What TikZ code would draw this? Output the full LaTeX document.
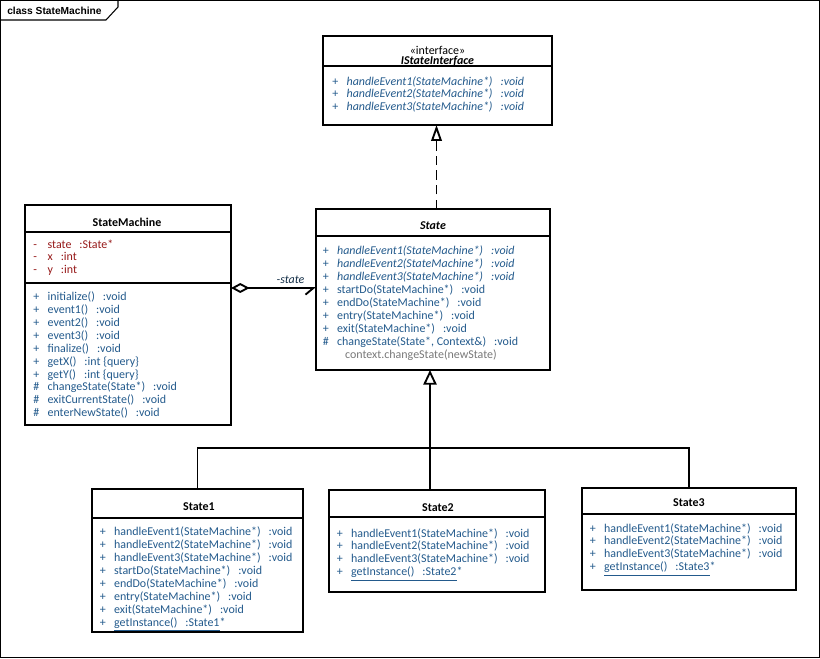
\documentclass[tikz,border=0pt]{standalone}
\usepackage{fontspec}
\setmainfont{Carlito}
\newfontfamily\framefont{Liberation Sans}
\usepackage{xcolor}
\usepackage{tikz}
\usetikzlibrary{arrows.meta,positioning,calc}

\definecolor{opblue}{RGB}{35,90,140}
\definecolor{attred}{RGB}{150,25,25}
\definecolor{codegray}{RGB}{120,120,120}
\newcommand{\px}{0.02646cm}
\newcommand{\rtype}[1]{\hspace{6pt}:#1}
\newcommand{\members}[1]{\begin{tabular}[t]{@{}p{10.8pt}@{}l@{}}#1\end{tabular}}

\begin{document}
\begin{tikzpicture}[x=\px, y=-\px, >=Latex,
  classbox/.style={draw, line width=1.4pt, anchor=north west, inner sep=0pt, outer sep=0pt},
  classname/.style={font=\fontsize{9}{10}\selectfont\bfseries, inner sep=0pt},
  ops/.style={anchor=base west, inner sep=0pt, text=opblue, font=\fontsize{9}{9.75}\selectfont},
  divider/.style={line width=1.4pt},
  link/.style={line width=1.4pt}]
\useasboundingbox (0,0) rectangle (820,658);
\draw[line width=0.8pt] (0.5,0.5) rectangle (819.5,657.5);
\node[anchor=west, inner sep=0pt, font=\framefont\fontsize{7.7}{9}\selectfont\bfseries] (title) at (7,11) {class StateMachine};
\draw[line width=0.8pt] (0.5,20) -- (106,20) -- (118,7) -- (118,0.5);

\node[classbox, minimum width=229*\px, minimum height=89*\px] (iface) at (323,36) {};
\node[inner sep=0pt, font=\fontsize{9}{10}\selectfont] (iface-stereo) at (437.5,50) {«interface»};
\node[classname] (iface-name) at (437.5,61.5) {\itshape IStateInterface};
\draw[divider] ([yshift=-30*\px]iface.north west) -- ([yshift=-30*\px]iface.north east);
\node[ops] (iface-ops) at (332,85) {\members{
+ & \textit{handleEvent1(StateMachine*)\rtype{void}}\\
+ & \textit{handleEvent2(StateMachine*)\rtype{void}}\\
+ & \textit{handleEvent3(StateMachine*)\rtype{void}}}};

\node[classbox, minimum width=234*\px, minimum height=161*\px] (state) at (316,209) {};
\node[classname] (state-name) at (433,225.5) {\itshape State};
\draw[divider] ([yshift=-27*\px]state.north west) -- ([yshift=-27*\px]state.north east);
\node[ops] (state-ops) at (322.5,254.5) {\members{
+ & \textit{handleEvent1(StateMachine*)\rtype{void}}\\
+ & \textit{handleEvent2(StateMachine*)\rtype{void}}\\
+ & \textit{handleEvent3(StateMachine*)\rtype{void}}\\
+ & startDo(StateMachine*)\rtype{void}\\
+ & endDo(StateMachine*)\rtype{void}\\
+ & entry(StateMachine*)\rtype{void}\\
+ & exit(StateMachine*)\rtype{void}\\
\# & changeState(State*, Context\&)\rtype{void}\\
 & \hspace{6pt}\textcolor{codegray}{context.changeState(newState)}}};

\node[classbox, minimum width=206*\px, minimum height=220*\px] (sm) at (25,205) {};
\node[classname] (sm-name) at (127,222.5) {StateMachine};
\draw[divider] ([yshift=-27*\px]sm.north west) -- ([yshift=-27*\px]sm.north east);
\draw[divider] ([yshift=-78*\px]sm.north west) -- ([yshift=-78*\px]sm.north east);
\node[ops, text=attred] (sm-attrs) at (33,248) {\members{
- & state\rtype{State*}\\
- & x\rtype{int}\\
- & y\rtype{int}}};
\node[ops] (sm-ops) at (33,300.3) {\members{
+ & initialize()\rtype{void}\\
+ & event1()\rtype{void}\\
+ & event2()\rtype{void}\\
+ & event3()\rtype{void}\\
+ & finalize()\rtype{void}\\
+ & getX()\rtype{int \{query\}}\\
+ & getY()\rtype{int \{query\}}\\
\# & changeState(State*)\rtype{void}\\
\# & exitCurrentState()\rtype{void}\\
\# & enterNewState()\rtype{void}}};

\node[classbox, minimum width=211*\px, minimum height=143*\px] (s1) at (92,489) {};
\node[classname] (s1-name) at (199,506.5) {State1};
\draw[divider] ([yshift=-29*\px]s1.north west) -- ([yshift=-29*\px]s1.north east);
\node[ops] (s1-ops) at (99.5,535.5) {\members{
+ & handleEvent1(StateMachine*)\rtype{void}\\
+ & handleEvent2(StateMachine*)\rtype{void}\\
+ & handleEvent3(StateMachine*)\rtype{void}\\
+ & startDo(StateMachine*)\rtype{void}\\
+ & endDo(StateMachine*)\rtype{void}\\
+ & entry(StateMachine*)\rtype{void}\\
+ & exit(StateMachine*)\rtype{void}\\
+ & \underline{getInstance()\rtype{State1}}*}};

\node[classbox, minimum width=216*\px, minimum height=102*\px] (s2) at (329,490) {};
\node[classname] (s2-name) at (438,507.5) {State2};
\draw[divider] ([yshift=-27*\px]s2.north west) -- ([yshift=-27*\px]s2.north east);
\node[ops] (s2-ops) at (336.5,537) {\members{
+ & handleEvent1(StateMachine*)\rtype{void}\\
+ & handleEvent2(StateMachine*)\rtype{void}\\
+ & handleEvent3(StateMachine*)\rtype{void}\\
+ & \underline{getInstance()\rtype{State2}}*}};

\node[classbox, minimum width=214*\px, minimum height=102*\px] (s3) at (582,488) {};
\node[classname] (s3-name) at (689,503) {State3};
\draw[divider] ([yshift=-26*\px]s3.north west) -- ([yshift=-26*\px]s3.north east);
\node[ops] (s3-ops) at (589.5,532) {\members{
+ & handleEvent1(StateMachine*)\rtype{void}\\
+ & handleEvent2(StateMachine*)\rtype{void}\\
+ & handleEvent3(StateMachine*)\rtype{void}\\
+ & \underline{getInstance()\rtype{State3}}*}};

\draw[link, dash pattern=on 7pt off 4pt, -{Triangle[open, length=12pt, width=8pt]}]
  ([xshift=3.5*\px]state.north) -- ([xshift=3.5*\px]state.north |- iface.south);
\draw[link, {Diamond[open, length=14pt, width=7.5pt]}-{Straight Barb[right, length=6pt, width=10pt]}]
  ([yshift=-83*\px]sm.north east) -- ([yshift=-83*\px]sm.north east -| state.west)
  node[pos=0.7, above=3pt, inner sep=0pt, font=\fontsize{9}{10}\selectfont\itshape, text=opblue!50!black] (role) {-state};
\coordinate (fork) at (430,448);
\draw[link, -{Triangle[open, length=11pt, width=10pt]}] (fork) -- (fork |- state.south);
\draw[link] (s1.north) |- (fork) -| (s3.north);
\draw[link] (fork) -- (fork |- s2.north);
\end{tikzpicture}
\end{document}
